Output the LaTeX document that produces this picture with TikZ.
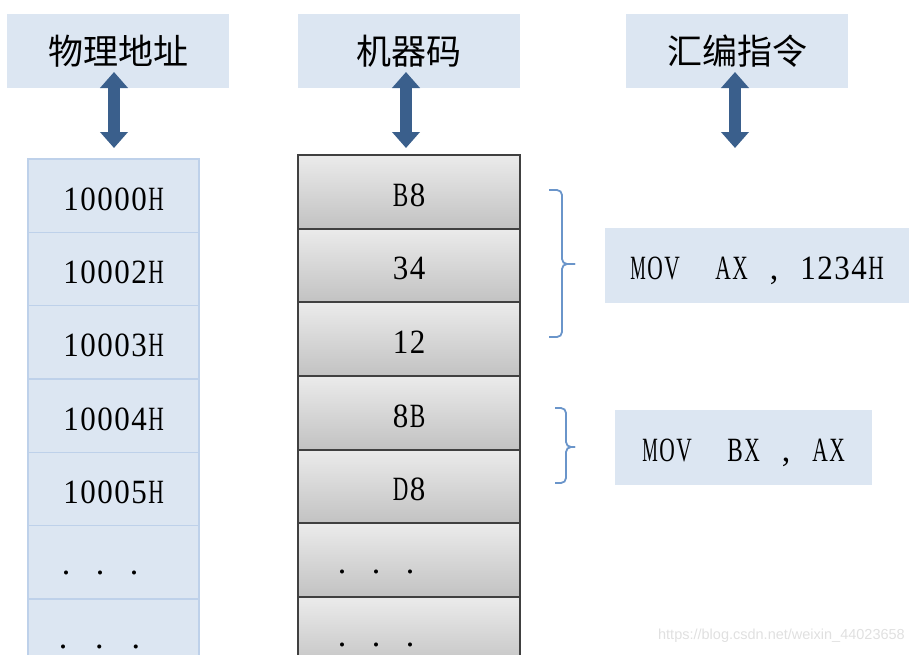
\documentclass[tikz,border=0pt]{standalone}
\usepackage{fontspec}
\usepackage{graphicx}
\setmainfont{Liberation Serif}
\newfontfamily\cjk{Noto Sans CJK SC}
\newfontfamily\wmfont{Liberation Sans}
\usetikzlibrary{arrows.meta}
\definecolor{hdr}{HTML}{DCE6F2}
\definecolor{lcb}{HTML}{BED1EA}
\definecolor{arr}{HTML}{3A5F8C}
\definecolor{brc}{HTML}{6A95CA}
\definecolor{mtop}{HTML}{EBEBEB}
\definecolor{mbot}{HTML}{C2C2C2}
\definecolor{mbd}{HTML}{404040}
\makeatletter
\newsavebox\mono@box
\def\mono@end{mono@end}
\def\mono#1{\mono@#1\mono@end}
\def\mono@#1{\ifx#1\mono@end\else\mono@cell{#1}\expandafter\mono@\fi}
\def\mono@cell#1{\sbox\mono@box{#1}%
  \ifdim\wd\mono@box>15.5pt
    \makebox[17pt]{\resizebox{15.5pt}{\height}{#1}}%
  \else
    \makebox[17pt]{#1}%
  \fi}
\makeatother
\begin{document}
\begin{tikzpicture}[x=1pt,y=-1pt,
  hdrbox/.style={fill=hdr, draw=none, minimum width=222pt, minimum height=74pt, inner sep=0pt, font=\cjk\fontsize{35}{40}\selectfont},
  latin/.style={inner sep=0pt, text height=30pt, text depth=1.4pt, font=\fontsize{34}{40}\selectfont},
  leftcell/.style={latin, fill=hdr, draw=lcb, line width=1.5pt, minimum width=171pt, minimum height=73.33pt},
  midcell/.style={latin, top color=mtop, bottom color=mbot, draw=mbd, line width=2pt, minimum width=222pt, minimum height=73.67pt},
  dotstext/.style={inner sep=0pt, anchor=base, font=\fontsize{34}{40}\selectfont},
  movbox/.style={latin, fill=hdr, draw=none, minimum height=75pt},
  dblarrow/.style={draw=arr, line width=12pt, arrows={Triangle[width=27pt,length=16pt]-Triangle[width=27pt,length=16pt]}},
  bracestyle/.style={draw=brc, line width=1.8pt, rounded corners=5pt}
]
\useasboundingbox (0,0) rectangle (915,654);
\clip (0,0) rectangle (915,654);

% left column
\node[leftcell] (l1) at (113.5,195.7) {\mono{10000H}};
\node[leftcell] (l2) at (113.5,269.0) {\mono{10002H}};
\node[leftcell] (l3) at (113.5,342.3) {\mono{10003H}};
\node[leftcell] (l4) at (113.5,415.7) {\mono{10004H}};
\node[leftcell] (l5) at (113.5,489.0) {\mono{10005H}};
\node[leftcell] (l6) at (113.5,562.3) {};
\node[leftcell] (l7) at (113.5,635.7) {};
\node[dotstext] (l6t) at (100,574) {\mono{.~.~.}};
\node[dotstext] (l7t) at (99.5,648) {\makebox[36.5pt]{.}\makebox[36.5pt]{.}\makebox[36.5pt]{.}};

% middle column
\node[midcell] (c1) at (409,191.8) {\mono{B8}};
\node[midcell] (c2) at (409,265.5) {\mono{34}};
\node[midcell] (c3) at (409,339.2) {\mono{12}};
\node[midcell] (c4) at (409,412.8) {\mono{8B}};
\node[midcell] (c5) at (409,486.5) {\mono{D8}};
\node[midcell] (c6) at (409,560.2) {};
\node[midcell] (c7) at (409,633.8) {};
\node[dotstext] (c6t) at (376,573) {\mono{.~.~.}};
\node[dotstext] (c7t) at (376,646) {\mono{.~.~.}};

% headers
\node[hdrbox] (h1) at (118,51) {物理地址};
\node[hdrbox] (h2) at (409,51) {机器码};
\node[hdrbox] (h3) at (737,51) {汇编指令};

% arrows
\coordinate (a1t) at (114,72);  \coordinate (a1b) at (114,148);
\coordinate (a2t) at (406,72);  \coordinate (a2b) at (406,148);
\coordinate (a3t) at (735,72);  \coordinate (a3b) at (735,148);
\draw[dblarrow] (a1t) -- (a1b);
\draw[dblarrow] (a2t) -- (a2b);
\draw[dblarrow] (a3t) -- (a3b);

% braces
\draw[bracestyle] (549,190) -| (562,264) -- (575,264);
\draw[bracestyle] (549,337) -| (562,264) -- (575,264);
\draw[bracestyle] (555,408) -| (566,447) -- (575,447);
\draw[bracestyle] (555,483) -| (566,447) -- (575,447);

% instructions
\node[movbox, minimum width=304pt] (m1) at (757,265.5) {\mono{MOV~~AX~,~1234H}};
\node[movbox, minimum width=257pt] (m2) at (743.5,447.5) {\mono{MOV~~BX~,~AX}};

% watermark
\node[anchor=east, inner sep=0pt, text=black!12, font=\wmfont\fontsize{14.5}{18}\selectfont] (wm) at (905,636) {https://blog.csdn.net/weixin\_44023658};
\end{tikzpicture}
\end{document}
